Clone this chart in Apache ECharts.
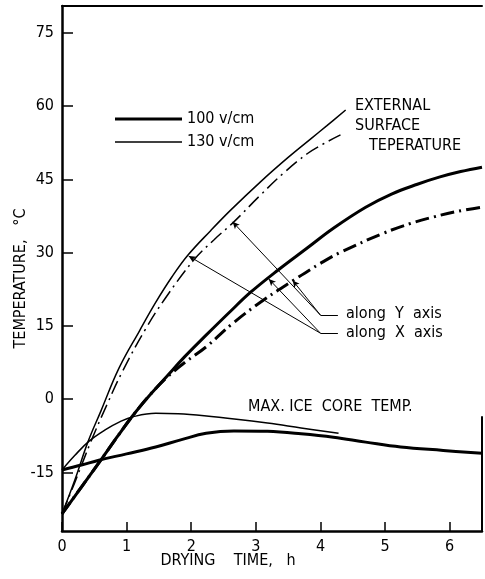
<!DOCTYPE html>
<html><head><meta charset="utf-8">
<script src="https://cdn.jsdelivr.net/npm/echarts@6/dist/echarts.min.js"></script>
<style>html,body{margin:0;padding:0;background:#fff}#c{width:485px;height:579px}</style>
</head><body><div id="c"></div>
<script>
// ---- data ----
const xTicks = [0, 1, 2, 3, 4, 5, 6];
const yTicks = [-15, 0, 15, 30, 45, 60, 75];

// External surface temperature
const surf130X = [[0,-23.5],[0.2,-16.5],[0.4,-8.8],[0.6,-2.5],[0.88,6.3],[1.2,14],[1.45,19.8],[1.7,25],[1.95,29.5],[2.3,34.5],[2.61,38.7],[3.08,44.6],[3.5,49.5],[3.85,53.3],[4.1,56],[4.39,59.2]];
const surf130Y = [[0,-23.5],[0.2,-17],[0.45,-8.6],[0.7,-1],[0.94,5.8],[1.3,14.5],[1.58,20.3],[2.04,28.5],[2.35,32.6],[2.66,36.3],[3.05,41.5],[3.43,46.3],[3.8,50.3],[4.05,52.3],[4.31,54.1]];
const surf100X = [[0,-23.5],[0.3,-18],[0.6,-12.5],[0.85,-7.8],[1.1,-3.3],[1.35,0.7],[1.61,4.5],[1.9,8.7],[2.23,13.1],[2.6,17.9],[2.92,21.9],[3.34,26.4],[3.8,31],[4.2,35],[4.7,39.3],[5.1,42.0],[5.5,44.0],[5.85,45.5],[6.17,46.6],[6.5,47.5]];
const surf100Y = [[0,-23.5],[0.3,-18],[0.6,-12.5],[0.85,-7.8],[1.1,-3.3],[1.35,0.7],[1.61,4.3],[1.9,7.5],[2.23,10.7],[2.65,15.6],[3.12,20.3],[3.59,24.4],[4.0,27.8],[4.3,30],[4.98,34],[5.4,36],[5.75,37.3],[6.1,38.4],[6.5,39.3]];

// Max. ice core temperature
const core130 = [[0,-14.5],[0.2,-11.5],[0.42,-8.6],[0.68,-6.2],[0.9,-4.6],[1.1,-3.6],[1.45,-2.9],[1.8,-3],[2.2,-3.4],[2.7,-4.1],[3.18,-4.9],[3.7,-5.9],[4.28,-7.0]];
const core100 = [[0,-14.5],[0.3,-13.5],[0.57,-12.5],[1.0,-11.2],[1.45,-9.8],[1.85,-8.3],[2.23,-7],[2.66,-6.5],[3.18,-6.6],[3.7,-7.1],[4.2,-7.8],[4.7,-8.8],[5.24,-9.8],[5.9,-10.5],[6.5,-11.1]];

// Annotation leaders (data coords): anchor -> target on curve
const anchorY = [4.0, 17.2];
const anchorX = [4.0, 13.5];
const targetsY = [[2.64, 36.3], [3.57, 24.3]];
const targetsX = [[1.96, 29.3], [3.2, 24.6]];
const stubEndX = 4.27;
const rightFrame = [[6.5,-3.5],[6.5,-27]];

// ---- chart ----
const FONT = "'DejaVu Sans Condensed','Liberation Sans Narrow','DejaVu Sans',sans-serif";
const DASHDOT = [14, 5, 2, 5];
const chart = echarts.init(document.getElementById('c'), null, {renderer:'canvas'});

function curve(name, data, width, dashed){
  return {type:'line', name, data, showSymbol:false, symbol:'none', smooth:0.4,
    lineStyle:{color:'#000', width, type: dashed ? DASHDOT : 'solid'}, itemStyle:{color:'#000'},
    z:3, silent:true};
}

const leaderData = [];
targetsY.forEach(t => leaderData.push([{coord:anchorY},{coord:t}]));
targetsX.forEach(t => leaderData.push([{coord:anchorX},{coord:t}]));
const stubData = [
  [{coord:anchorY, symbol:'none'},{coord:[stubEndX, anchorY[1]], symbol:'none'}],
  [{coord:anchorX, symbol:'none'},{coord:[stubEndX, anchorX[1]], symbol:'none'}]
];

chart.setOption({
  animation:false,
  backgroundColor:'#fff',
  textStyle:{fontFamily:FONT, color:'#000'},
  grid:{left:62, right:3, top:6, bottom:48, containLabel:false, outerBoundsMode:'none'},
  legend:{
    show:true, orient:'vertical', left:110, top:106, itemWidth:67, itemHeight:14, itemGap:7,
    data:[
      {name:'100 v/cm', icon:'path://M0,0L67,0L67,3L0,3Z'},
      {name:'130 v/cm', icon:'path://M0,0L67,0L67,1.5L0,1.5Z'}
    ],
    itemStyle:{color:'#000', borderWidth:0},
    lineStyle:{width:0},
    textStyle:{fontFamily:FONT, fontSize:16, color:'#000'},
    selectedMode:false
  },
  xAxis:[{
    type:'value', min:0, max:6.5, position:'bottom',
    name:'DRYING    TIME,   h', nameLocation:'middle', nameGap:22, nameMoveOverlap:false,
    nameTextStyle:{fontFamily:FONT, fontSize:16, color:'#000', padding:[0,88,0,0], verticalAlign:'top'},
    axisLine:{show:true, onZero:false, lineStyle:{color:'#000', width:2.5}},
    axisTick:{show:true, inside:true, length:9, customValues:xTicks, lineStyle:{color:'#000', width:1.5}},
    axisLabel:{show:true, customValues:xTicks, margin:8, fontFamily:FONT, fontSize:16, color:'#000'},
    splitLine:{show:false}
  },{
    type:'value', min:0, max:6.5, position:'top',
    axisLine:{show:true, onZero:false, lineStyle:{color:'#000', width:2}},
    axisTick:{show:false}, axisLabel:{show:false}, splitLine:{show:false}
  }],
  yAxis:{
    type:'value', min:-27, max:80.5,
    name:'TEMPERATURE,   °C', nameLocation:'middle', nameGap:33, nameRotate:90, nameMoveOverlap:false,
    nameTextStyle:{fontFamily:FONT, fontSize:16, color:'#000', padding:[0,0,0,-20]},
    axisLine:{show:true, onZero:false, lineStyle:{color:'#000', width:2.5}},
    axisTick:{show:true, inside:true, length:11, customValues:yTicks, lineStyle:{color:'#000', width:1.5}},
    axisLabel:{show:true, customValues:yTicks, margin:8, fontFamily:FONT, fontSize:16, color:'#000'},
    splitLine:{show:false}
  },
  series:[
    curve('100 v/cm', surf100X, 3, false),
    curve('100 v/cm Y', surf100Y, 3, true),
    curve('130 v/cm', surf130X, 1.5, false),
    curve('130 v/cm Y', surf130Y, 1.5, true),
    curve('core 100', core100, 3, false),
    curve('core 130', core130, 1.5, false),
    {type:'line', name:'frame', data:rightFrame, showSymbol:false, symbol:'none',
     lineStyle:{color:'#000', width:2}, silent:true, clip:false},
    {type:'line', name:'leaders', data:[], silent:true,
     markLine:{silent:true, animation:false, symbol:['none','arrow'], symbolSize:[5,7],
       lineStyle:{color:'#000', width:1, type:'solid'}, label:{show:false},
       emphasis:{disabled:true}, data:leaderData.concat(stubData)}}
  ],
  graphic:[
    {type:'text', left:355, top:98, style:{text:'EXTERNAL', font:'16px '+FONT, fill:'#000'}},
    {type:'text', left:355, top:118, style:{text:'SURFACE', font:'16px '+FONT, fill:'#000'}},
    {type:'text', left:369, top:138, style:{text:'TEPERATURE', font:'16px '+FONT, fill:'#000'}},
    {type:'text', left:346, top:306, style:{text:'along  Y  axis', font:'16px '+FONT, fill:'#000'}},
    {type:'text', left:346, top:325, style:{text:'along  X  axis', font:'16px '+FONT, fill:'#000'}},
    {type:'text', left:248, top:399, style:{text:'MAX. ICE  CORE  TEMP.', font:'16px '+FONT, fill:'#000'}}
  ]
});
</script></body></html>
